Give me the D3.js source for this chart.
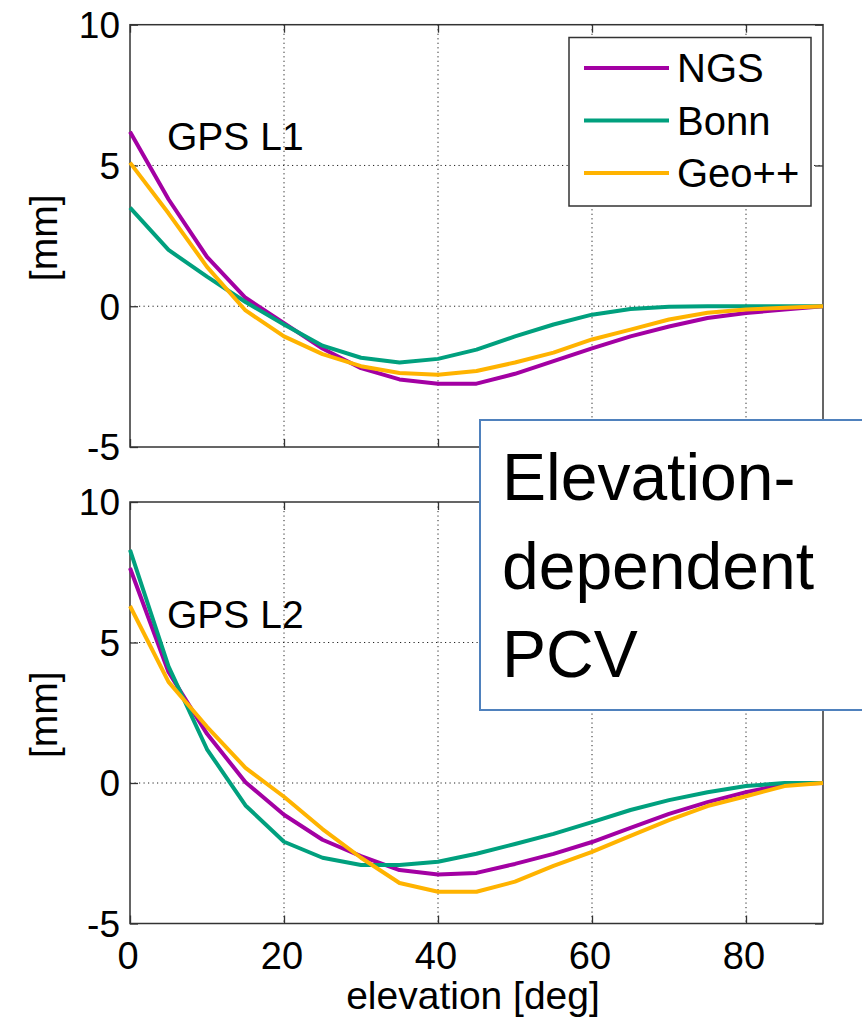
<!DOCTYPE html>
<html>
<head>
<meta charset="utf-8">
<script src="https://cdn.jsdelivr.net/npm/d3@7"></script>
<style>
  body { margin: 0; background: #fff; }
  svg { display: block; }
  text { font-family: "Liberation Sans", Arial, sans-serif; fill: #000; }
</style>
</head>
<body>
<svg id="canvas" width="862" height="1025"></svg>
<script>
// elevation angle (deg) and PCV values (mm)
const elevation = [0, 5, 10, 15, 20, 25, 30, 35, 40, 45, 50, 55, 60, 65, 70, 75, 80, 85, 90];

const ngsL1  = [6.2, 3.8, 1.75, 0.3, -0.6, -1.5, -2.2, -2.6, -2.75, -2.75, -2.4, -1.95, -1.5, -1.07, -0.72, -0.42, -0.24, -0.12, 0];
const bonnL1 = [3.5, 2.0, 1.05, 0.15, -0.65, -1.4, -1.83, -2.0, -1.87, -1.54, -1.07, -0.65, -0.3, -0.1, -0.02, 0, 0, 0, 0];
const geoL1  = [5.1, 3.3, 1.4, -0.15, -1.07, -1.7, -2.13, -2.37, -2.43, -2.3, -2.0, -1.65, -1.18, -0.83, -0.47, -0.23, -0.12, -0.05, 0];

const ngsL2  = [7.65, 3.95, 1.75, 0.03, -1.13, -2.02, -2.6, -3.1, -3.26, -3.2, -2.88, -2.52, -2.1, -1.6, -1.1, -0.68, -0.33, -0.04, 0];
const bonnL2 = [8.3, 4.15, 1.2, -0.8, -2.09, -2.66, -2.92, -2.92, -2.8, -2.52, -2.17, -1.81, -1.39, -0.96, -0.61, -0.33, -0.11, 0, 0];
const geoL2  = [6.3, 3.6, 2.0, 0.54, -0.49, -1.64, -2.66, -3.56, -3.87, -3.87, -3.51, -2.95, -2.45, -1.88, -1.32, -0.82, -0.47, -0.11, 0];

const seriesNames = ["NGS", "Bonn", "Geo++"];
const xTicks = [0, 20, 40, 60, 80];
const yTicks = [-5, 0, 5, 10];
const boxLines = ["Elevation-", "dependent", "PCV"];

const colors = { "NGS": "#a300a3", "Bonn": "#00a07e", "Geo++": "#ffb300" };

const svg = d3.select("svg#canvas");

const x = d3.scaleLinear().domain([0, 90]).range([130, 823]);

const panels = [
  { label: "GPS L1", top: 24.7, bottom: 447, values: [ngsL1, bonnL1, geoL1], xLabels: false, legend: true },
  { label: "GPS L2", top: 502, bottom: 923.5, values: [ngsL2, bonnL2, geoL2], xLabels: true, legend: false }
];

panels.forEach(p => {
  const y = d3.scaleLinear().domain([-5, 10]).range([p.bottom, p.top]);
  const g = svg.append("g");

  // grid
  g.append("g")
    .selectAll("line")
    .data(xTicks.filter(d => d > 0))
    .join("line")
      .attr("x1", d => x(d)).attr("x2", d => x(d))
      .attr("y1", p.top).attr("y2", p.bottom)
      .attr("stroke", "#222").attr("stroke-width", 1)
      .attr("stroke-dasharray", "1.2,3.3");
  g.append("g")
    .selectAll("line")
    .data([0, 5])
    .join("line")
      .attr("x1", x(0)).attr("x2", x(90))
      .attr("y1", d => y(d)).attr("y2", d => y(d))
      .attr("stroke", "#222").attr("stroke-width", 1)
      .attr("stroke-dasharray", "1.2,3.3");

  // inward ticks on all four sides
  const tickAxes = [
    [d3.axisBottom(x).tickValues(xTicks), `translate(0,${p.bottom})`],
    [d3.axisTop(x).tickValues(xTicks), `translate(0,${p.top})`],
    [d3.axisLeft(y).tickValues(yTicks), `translate(${x(0)},0)`],
    [d3.axisRight(y).tickValues(yTicks), `translate(${x(90)},0)`]
  ];
  tickAxes.forEach(([axis, tr]) => {
    g.append("g")
      .attr("transform", tr)
      .call(axis.tickSize(-8).tickFormat(""))
      .call(a => a.select(".domain").remove())
      .call(a => a.selectAll("line").attr("stroke", "#333").attr("stroke-width", 1.3));
  });

  // y tick labels
  g.append("g")
    .selectAll("text")
    .data(yTicks)
    .join("text")
      .attr("x", 120)
      .attr("y", d => y(d))
      .attr("dy", "0.36em")
      .attr("text-anchor", "end")
      .attr("font-size", 37)
      .text(d => d);

  if (p.xLabels) {
    g.append("g")
      .selectAll("text")
      .data(xTicks)
      .join("text")
        .attr("x", d => x(d) - 2)
        .attr("y", 969)
        .attr("text-anchor", "middle")
        .attr("font-size", 38)
        .text(d => d);
    g.append("text")
      .attr("x", 473)
      .attr("y", 1009)
      .attr("text-anchor", "middle")
      .attr("font-size", 39)
      .text("elevation [deg]");
  }

  // y label
  g.append("text")
    .attr("transform", `translate(57,${(p.top + p.bottom) / 2 + 2}) rotate(-90)`)
    .attr("text-anchor", "middle")
    .attr("font-size", 39)
    .text("[mm]");

  // frame
  g.append("rect")
    .attr("x", x(0)).attr("y", p.top)
    .attr("width", x(90) - x(0)).attr("height", p.bottom - p.top)
    .attr("fill", "none").attr("stroke", "#333").attr("stroke-width", 1.5);

  // series
  const line = d3.line()
    .x((d, i) => x(elevation[i]))
    .y(d => y(d));
  g.append("g")
    .selectAll("path")
    .data(p.values)
    .join("path")
      .attr("d", d => line(d))
      .attr("fill", "none")
      .attr("stroke", (d, i) => colors[seriesNames[i]])
      .attr("stroke-width", 4)
      .attr("stroke-linejoin", "round");

  g.append("text")
    .attr("x", 167)
    .attr("y", p.top + 125.5)
    .attr("font-size", 39)
    .text(p.label);

  if (p.legend) {
    const lg = g.append("g");
    lg.append("rect")
      .attr("x", 569).attr("y", 37.5)
      .attr("width", 242).attr("height", 168.5)
      .attr("fill", "#fff").attr("stroke", "#333").attr("stroke-width", 1.5);
    const item = lg.selectAll("g.item")
      .data(seriesNames)
      .join("g")
        .attr("class", "item")
        .attr("transform", (d, i) => `translate(0,${68 + i * 52.5})`);
    item.append("line")
      .attr("x1", 584).attr("x2", 669)
      .attr("stroke", d => colors[d]).attr("stroke-width", 4);
    item.append("text")
      .attr("x", 677)
      .attr("dy", "0.36em")
      .attr("font-size", 40)
      .text(d => d);
  }
});

// annotation box
const box = svg.append("g");
box.append("rect")
  .attr("x", 480).attr("y", 420)
  .attr("width", 400).attr("height", 290)
  .attr("fill", "#fff").attr("stroke", "#4f81bd").attr("stroke-width", 2);
box.selectAll("text")
  .data(boxLines)
  .join("text")
    .attr("x", 502)
    .attr("y", (d, i) => 500 + i * 88.5)
    .attr("font-family", "Lato, 'Open Sans', sans-serif")
    .attr("font-size", 66)
    .text(d => d);
</script>
</body>
</html>
